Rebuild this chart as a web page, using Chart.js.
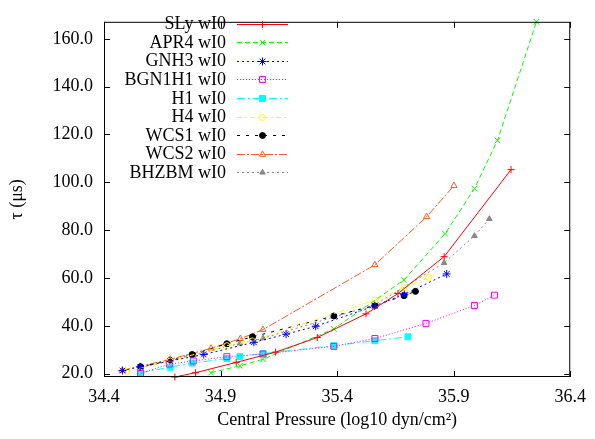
<!DOCTYPE html>
<html>
<head>
<meta charset="utf-8">
<script src="https://cdn.jsdelivr.net/npm/chart.js@4/dist/chart.umd.min.js"></script>
<style>
html,body{margin:0;padding:0;background:#fff;}
#wrap{width:595px;height:439px;position:relative;}
</style>
</head>
<body>
<div id="wrap"><canvas id="c" width="595" height="439"></canvas></div>
<script>
// ---- data ----
const seriesNames = ['SLy wI0','APR4 wI0','GNH3 wI0','BGN1H1 wI0','H1 wI0','H4 wI0','WCS1 wI0','WCS2 wI0','BHZBM wI0'];

const slyX = [34.704, 34.793, 34.967, 35.136, 35.315, 35.524, 35.661, 35.859, 36.146];
const slyY = [18.6, 20.4, 24.7, 29.0, 35.1, 45.0, 53.5, 68.9, 105.3];

const apr4X = [34.859, 34.983, 35.082, 35.386, 35.687, 35.863, 35.989, 36.088, 36.255];
const apr4Y = [20.4, 23.3, 26.0, 38.7, 59.2, 78.5, 97.4, 117.5, 167.1];

const gnh3X = [34.479, 34.555, 34.828, 35.043, 35.181, 35.308, 35.561, 35.688, 35.870];
const gnh3Y = [21.3, 22.9, 28.0, 33.1, 36.5, 39.8, 48.3, 53.1, 61.7];

const bgnX = [34.557, 34.680, 34.783, 34.927, 35.082, 35.386, 35.562, 35.781, 35.989, 36.075];
const bgnY = [20.1, 24.0, 25.3, 27.1, 28.2, 31.4, 34.7, 41.0, 48.5, 52.8];

const h1X = [34.557, 34.684, 34.778, 34.927, 34.983, 35.082, 35.386, 35.562, 35.704];
const h1Y = [20.4, 22.7, 24.4, 26.3, 27.1, 28.4, 31.7, 33.8, 35.4];

const h4X = [34.496, 34.684, 34.927, 35.036, 35.562, 35.687, 35.793];
const h4Y = [21.0, 25.3, 31.7, 33.7, 50.8, 55.9, 60.2];

const wcs1X = [34.557, 34.684, 34.778, 34.927, 35.037, 35.386, 35.562, 35.687, 35.736];
const wcs1Y = [22.9, 25.5, 28.0, 32.5, 35.4, 44.1, 48.5, 52.6, 54.4];

const wcs2X = [34.479, 34.684, 34.859, 34.985, 35.082, 35.562, 35.784, 35.901];
const wcs2Y = [21.3, 26.0, 30.6, 34.6, 38.4, 65.5, 85.6, 98.6];

const bhzX = [34.557, 34.684, 34.781, 34.983, 35.082, 35.562, 35.859, 35.989, 36.053];
const bhzY = [22.5, 25.3, 27.8, 32.6, 34.8, 48.8, 66.3, 77.6, 84.7];

const xTicks = [34.4, 34.9, 35.4, 35.9, 36.4];
const yTicks = [20, 40, 60, 80, 100, 120, 140, 160];

// ---- styles ----
const FONT = "'Liberation Serif', 'Times New Roman', serif";
const styles = [
  {color:'#ff0000', dash:[],            pt:'cross',    r:3.5, fill:false},
  {color:'#00ff00', dash:[5,3],         pt:'crossRot', r:4,   fill:false},
  {color:'#0000ff', dash:[2,3],         pt:'star',     r:4,   fill:false},
  {color:'#ff00ff', dash:[1,2],         pt:'rect',     r:4.2, fill:false},
  {color:'#00ffff', dash:[8,3,2,3],     pt:'rect',     r:4.2, fill:true},
  {color:'#ffff00', dash:[5,3,2,3],     pt:'circle',   r:3,   fill:false},
  {color:'#000000', dash:[3,6],         pt:'circle',   r:3,   fill:true},
  {color:'#ff5a1f', dash:[8,2,2,2],     pt:'triangle', r:3.6, fill:false},
  {color:'#888888', dash:[2,3],         pt:'triangle', r:3.2, fill:true}
];
const xs = [slyX, apr4X, gnh3X, bgnX, h1X, h4X, wcs1X, wcs2X, bhzX];
const ys = [slyY, apr4Y, gnh3Y, bgnY, h1Y, h4Y, wcs1Y, wcs2Y, bhzY];

const datasets = seriesNames.map((name, i) => {
  const s = styles[i];
  return {
    label: name,
    data: xs[i].map((x, k) => ({x: x, y: ys[i][k]})),
    showLine: true,
    tension: 0,
    borderColor: s.color,
    borderWidth: 1,
    borderDash: s.dash,
    pointStyle: s.pt,
    pointRadius: s.r,
    pointHoverRadius: s.r,
    pointBorderColor: s.color,
    pointBackgroundColor: s.fill ? s.color : 'rgba(0,0,0,0)',
    pointBorderWidth: 1,
    clip: 6
  };
});

// frame + inward ticks on all sides
const framePlugin = {
  id: 'frame',
  afterDatasetsDraw(chart) {
    const ctx = chart.ctx, a = chart.chartArea;
    const xs_ = chart.scales.x, ys_ = chart.scales.y;
    ctx.save();
    ctx.strokeStyle = '#000';
    ctx.lineWidth = 1;
    ctx.setLineDash([]);
    ctx.strokeRect(a.left + 0.5, a.top + 0.5, a.right - a.left - 1, a.bottom - a.top - 1);
    const tl = 6;
    ctx.beginPath();
    xTicks.forEach(v => {
      const px = Math.round(xs_.getPixelForValue(v)) + 0.5;
      ctx.moveTo(px, a.bottom); ctx.lineTo(px, a.bottom - tl);
      ctx.moveTo(px, a.top); ctx.lineTo(px, a.top + tl);
    });
    yTicks.forEach(v => {
      const py = Math.round(ys_.getPixelForValue(v)) + 0.5;
      ctx.moveTo(a.left, py); ctx.lineTo(a.left + tl, py);
      ctx.moveTo(a.right, py); ctx.lineTo(a.right - tl, py);
    });
    ctx.stroke();
    ctx.restore();
  }
};

// gnuplot-style key: right-aligned text with line sample on the right
const keyPlugin = {
  id: 'gkey',
  afterDraw(chart) {
    const ctx = chart.ctx;
    const textRight = 226, lineL = 237, lineR = 288, top = 23.5, step = 18.6;
    ctx.save();
    chart.data.datasets.forEach((ds, i) => {
      const y = top + i * step;
      ctx.font = '18px ' + FONT;
      ctx.fillStyle = '#000';
      ctx.textAlign = 'right';
      ctx.textBaseline = 'middle';
      ctx.fillText(ds.label, textRight, y + 1);
      ctx.strokeStyle = ds.borderColor;
      ctx.lineWidth = 1;
      ctx.setLineDash(ds.borderDash);
      ctx.beginPath();
      ctx.moveTo(lineL, Math.round(y) + 0.5);
      ctx.lineTo(lineR, Math.round(y) + 0.5);
      ctx.stroke();
      ctx.setLineDash([]);
      ctx.strokeStyle = ds.pointBorderColor;
      ctx.fillStyle = ds.pointBackgroundColor;
      ctx.lineWidth = 1;
      Chart.helpers.drawPoint(ctx, {pointStyle: ds.pointStyle, radius: ds.pointRadius, borderWidth: 1, rotation: 0}, (lineL + lineR) / 2, Math.round(y) + 0.5);
    });
    ctx.restore();
  }
};

new Chart(document.getElementById('c'), {
  type: 'scatter',
  data: {datasets: datasets},
  options: {
    responsive: false,
    animation: false,
    devicePixelRatio: 1,
    layout: {padding: {left: 0, right: 18, top: 7, bottom: 0}},
    plugins: {legend: {display: false}, tooltip: {enabled: false}},
    scales: {
      x: {
        type: 'linear',
        min: 34.4, max: 36.4,
        afterBuildTicks: s => { s.ticks = xTicks.map(v => ({value: v})); },
        afterFit: s => { s.height = 62; },
        grid: {display: false, drawTicks: false},
        border: {display: false},
        ticks: {
          autoSkip: false, maxRotation: 0, padding: 9, color: '#000',
          font: {family: FONT, size: 18},
          callback: v => Number(v).toFixed(1)
        },
        title: {display: true, text: 'Central Pressure (log10 dyn/cm²)', color: '#000',
          font: {family: FONT, size: 18}, padding: {top: 0, bottom: 8}}
      },
      y: {
        type: 'linear',
        min: 18.6, max: 167.1,
        afterBuildTicks: s => { s.ticks = yTicks.map(v => ({value: v})); },
        afterFit: s => { s.width = 104; },
        grid: {display: false, drawTicks: false},
        border: {display: false},
        ticks: {
          padding: 11, color: '#000',
          font: {family: FONT, size: 18},
          callback: v => Number(v).toFixed(1)
        },
        title: {display: true, text: 'τ (μs)', color: '#000',
          font: {family: FONT, size: 18}, padding: {top: 6, bottom: 0}}
      }
    }
  },
  plugins: [framePlugin, keyPlugin]
});
</script>
</body>
</html>
